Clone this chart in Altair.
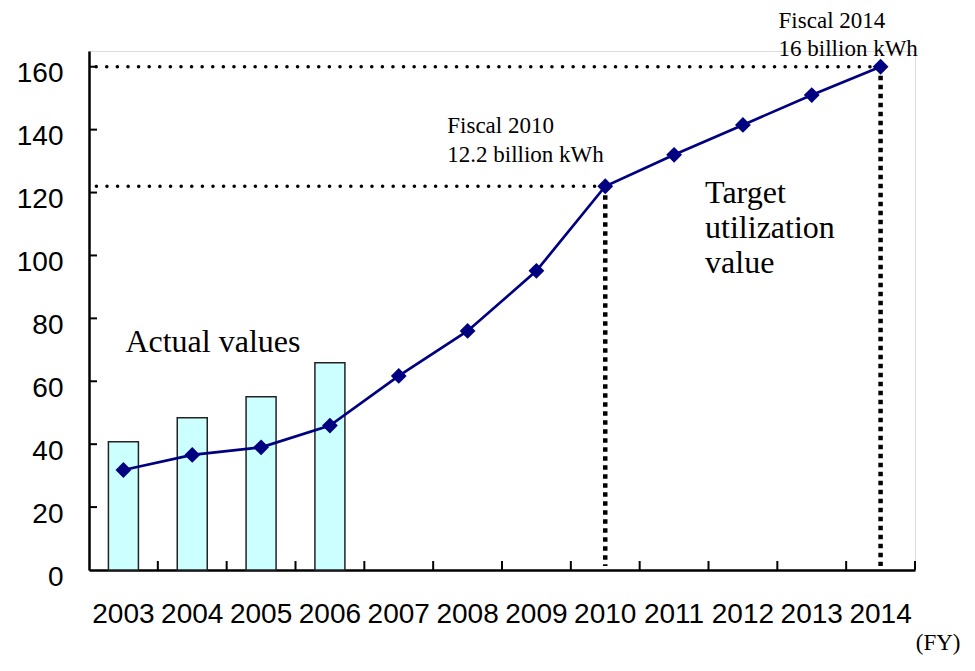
import altair as alt
import pandas as pd

years = ["2003", "2004", "2005", "2006", "2007", "2008",
         "2009", "2010", "2011", "2012", "2013", "2014"]
utilization = [31.8, 36.6, 39.0, 45.9, 61.7, 76.0, 95.1, 122, 132, 141.5, 151, 160]
actual_years = ["2003", "2004", "2005", "2006"]
actual_values = [40.8, 48.4, 55.1, 65.9]
y_ticks = [0, 20, 40, 60, 80, 100, 120, 140, 160]
target_years = ["2010", "2014"]

line_df = pd.DataFrame({"year": years, "value": utilization})
bar_df = pd.DataFrame({"year": actual_years, "value": actual_values})
ytick_df = pd.DataFrame({"v": y_ticks[1:]})
xtick_df = pd.DataFrame({"year": years})

W, H = 826, 519
NAVY = "#000080"
SANS = "Liberation Sans"
SERIF = "Liberation Serif"

xscale = alt.Scale(domain=years, paddingInner=0, paddingOuter=0)
yscale = alt.Scale(domain=[0, 165], nice=False, zero=True)

x_axis = alt.Axis(
    labelAngle=0, labelFont=SANS, labelFontSize=28, labelColor="black",
    labelPadding=30, labelOverlap=False, ticks=False,
    domainColor="black", domainWidth=2.5,
    title="(FY)", titleFont=SERIF, titleFontSize=23, titleFontWeight="normal",
    titleColor="black", titleX=871, titleY=79, titleAlign="right",
    titleBaseline="alphabetic", titleAnchor="end",
)
y_axis = alt.Axis(
    values=y_ticks, labelFont=SANS, labelFontSize=28, labelColor="black",
    labelPadding=26, labelOffset=7, ticks=False, grid=False,
    domainColor="black", domainWidth=2.5, title=None,
)

X = alt.X("year:N", scale=xscale, axis=x_axis, sort=years)
Y = alt.Y("value:Q", scale=yscale, axis=y_axis)

bars = alt.Chart(bar_df).mark_bar(
    size=30, color="#CCFFFF", stroke="#222222", strokeWidth=1.5
).encode(x=X, y=Y)

yticks = alt.Chart(ytick_df).mark_rule(color="black", strokeWidth=2).encode(
    y=alt.Y("v:Q", scale=yscale), x=alt.value(0), x2=alt.value(8)
)
xticks = alt.Chart(xtick_df).mark_rule(color="black", strokeWidth=2).encode(
    x=alt.X("year:N", scale=xscale, bandPosition=1, sort=years),
    y=alt.value(H), y2=alt.value(H - 9)
)

targets = alt.Chart(line_df).transform_filter(
    alt.FieldOneOfPredicate(field="year", oneOf=target_years)
)
hdots = targets.mark_rule(
    color="black", strokeWidth=3.5, strokeDash=[0.1, 10.5], strokeCap="round"
).encode(x=X, x2=alt.value(4), y=Y)
vdots = targets.mark_rule(
    color="black", strokeWidth=4.5, strokeDash=[4.5, 4.5]
).encode(x=X, y=Y, y2=alt.value(H - 4))

line = alt.Chart(line_df).mark_line(color=NAVY, strokeWidth=2.7).encode(x=X, y=Y)
points = alt.Chart(line_df).mark_point(
    shape="diamond", filled=True, size=250, color=NAVY, opacity=1
).encode(x=X, y=Y)


def note(year, lines, dx, dy, size, lh, src):
    return alt.Chart(src).transform_filter(
        alt.FieldEqualPredicate(field="year", equal=year)
    ).mark_text(
        align="left", baseline="alphabetic", font=SERIF, fontSize=size,
        lineHeight=lh, color="black", dx=dx, dy=dy
    ).encode(x=X, y=Y, text=alt.value(lines))


t_actual = note("2003", "Actual values", 2, -90, 32, 35, bar_df)
t_target = note("2011", ["Target", "utilization", "value"], 31, 48, 32, 35, line_df)
t_2010 = note("2010", ["Fiscal 2010", "12.2 billion kWh"], -158, -53, 23, 29, line_df)
t_2014 = note("2014", ["Fiscal 2014", "16 billion kWh"], -102, -39, 23, 28, line_df)

chart = alt.layer(
    bars, yticks, xticks, hdots, vdots, line, points,
    t_actual, t_target, t_2010, t_2014
).properties(
    width=W, height=H,
    autosize=alt.AutoSizeParams(type="none"),
    padding={"left": 81, "top": 43, "right": 50, "bottom": 87},
).configure_view(stroke=None).configure(background="white")

chart.save("out.html", embed_options={"renderer": "svg", "actions": False})
